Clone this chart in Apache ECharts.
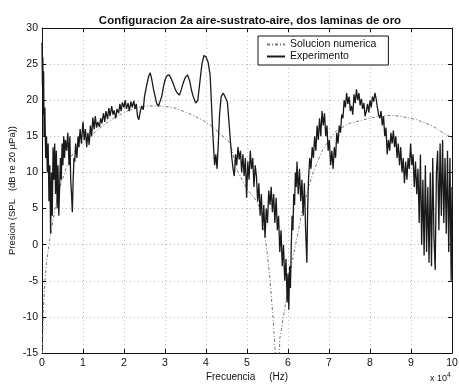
<!DOCTYPE html>
<html>
<head>
<meta charset="utf-8">
<script src="https://cdn.jsdelivr.net/npm/echarts@6/dist/echarts.min.js"></script>
<style>
html,body{margin:0;padding:0;background:#fff;}
#main{width:459px;height:386px;}
</style>
</head>
<body>
<div id="main"></div>
<script>
var titleText = 'Configuracion 2a aire-sustrato-aire, dos laminas de oro';
var seriesNames = ['Solucion numerica', 'Experimento'];
var xTicks = [0,1,2,3,4,5,6,7,8,9,10];
var yTicks = [-15,-10,-5,0,5,10,15,20,25,30];

// Solucion numerica: [frecuencia (x10^4 Hz), SPL dB]
var numerica = [
[0.01,-15],[0.03,-9.5],[0.07,-5],[0.11,-2.5],[0.2,1.1],[0.32,5],[0.44,8],[0.6,10.8],
[0.76,12.7],[1.0,14.2],[1.17,15],[1.4,16.1],[1.58,16.9],[1.8,17.7],[2.07,18.5],[2.3,18.9],
[2.55,19.2],[2.88,19.2],[3.2,19],[3.53,18.3],[3.9,17.3],[4.1,16.6],[4.3,15.6],[4.59,14.1],
[4.75,10.4],[4.99,7.8],[5.24,6.0],[5.36,4.4],[5.44,1.1],[5.5,-1.5],[5.56,-4.8],[5.64,-10.5],
[5.69,-15],[5.72,-19],[5.77,-19],[5.8,-13],[5.93,-8.5],[6.05,-3.9],[6.21,0.7],[6.37,5.3],
[6.61,10],[6.85,13.2],[7.02,14.6],[7.19,15.8],[7.5,16.8],[7.92,17.4],[8.24,17.8],[8.5,17.9],
[8.73,17.8],[9.14,17.3],[9.54,16.4],[9.78,15.5],[10,14.8]
];

// Experimento: [frecuencia (x10^4 Hz), SPL dB]
var experimento = [
[0,28],[0.01,22],[0.02,26],[0.03,18],[0.04,24],[0.05,15],[0.07,19],[0.09,12],[0.11,15],[0.13,10],
[0.15,14],[0.17,6],[0.19,11],[0.21,1.5],[0.23,10],[0.25,4],[0.27,13.5],[0.29,9],[0.31,14],[0.33,7],
[0.35,13],[0.37,5],[0.39,11],[0.41,4],[0.43,8],[0.45,12],[0.47,9],[0.49,14],[0.51,11],[0.53,15],
[0.55,12],[0.57,14.5],[0.6,13],[0.63,15.5],[0.66,11],[0.68,15],[0.7,9],[0.72,7],[0.74,4.5],[0.76,9],
[0.78,12],[0.8,11.5],[0.82,14],[0.85,12],[0.88,15],[0.9,13.5],[0.93,16],[0.96,14],[1.0,17],[1.03,14.5],
[1.06,16],[1.09,13.5],[1.12,15.5],[1.15,13.8],[1.18,16.5],[1.21,15],[1.24,17.6],[1.27,16],[1.3,17.8],[1.33,16.2],
[1.36,17],[1.4,16.3],[1.43,17.5],[1.46,16.8],[1.5,18.2],[1.53,17],[1.56,18.5],[1.6,17.4],[1.63,18.9],[1.66,17.8],
[1.7,19.2],[1.73,18],[1.76,18.6],[1.8,17.5],[1.83,18.8],[1.87,18.2],[1.9,19.5],[1.93,18.5],[1.96,19.7],[2.0,19],
[2.03,20],[2.06,18.8],[2.1,19.6],[2.13,18.5],[2.17,19.8],[2.2,19],[2.24,19.9],[2.27,18.8],[2.3,19.5],[2.33,17.8],
[2.36,17.3],[2.4,18.5],[2.43,19.2],[2.47,18.7],[2.5,20.5],[2.55,22],[2.6,23.3],[2.64,23.8],[2.68,22.8],[2.72,21.5],
[2.76,20.5],[2.8,19.5],[2.84,19.2],[2.88,19],[2.92,20.5],[2.96,21.8],[3.0,22.8],[3.05,23.4],[3.1,23.5],[3.15,23],
[3.2,22.3],[3.25,21.5],[3.3,21],[3.35,20.7],[3.4,21.5],[3.45,22.5],[3.5,23.2],[3.55,23.5],[3.6,22.7],[3.65,21.3],
[3.7,20.3],[3.75,19.6],[3.8,20],[3.85,22.5],[3.9,25],[3.95,26.2],[4.0,26],[4.05,25.3],[4.1,23.5],[4.13,20],
[4.16,16],[4.19,13],[4.21,11],[4.24,12.5],[4.27,10.5],[4.3,14],[4.33,18],[4.37,20.5],[4.42,21],[4.47,20.4],
[4.52,19.8],[4.56,17],[4.6,14],[4.63,12],[4.66,10.5],[4.69,9.5],[4.72,12.5],[4.75,11],[4.78,13.5],[4.81,11.8],
[4.84,13],[4.87,10],[4.9,12.5],[4.93,9.5],[4.96,12],[4.99,6.5],[5.02,11.5],[5.05,9],[5.08,13],[5.11,10.5],
[5.14,12],[5.17,8],[5.2,11],[5.23,9.5],[5.26,6],[5.29,8.5],[5.32,4],[5.35,7],[5.38,2],[5.41,5.5],
[5.44,1],[5.47,5],[5.5,3],[5.53,7.5],[5.56,5.5],[5.59,8],[5.62,4.5],[5.65,7],[5.68,3],[5.71,6.5],
[5.74,2],[5.77,4],[5.8,-1],[5.83,2],[5.86,-3],[5.89,0],[5.92,-5],[5.95,-2],[5.98,-8],[6.0,-4],
[6.02,-9],[6.04,-3],[6.06,-6],[6.08,0],[6.1,4],[6.12,2],[6.14,7],[6.16,5.5],[6.18,10],[6.2,8],
[6.22,11.5],[6.25,7],[6.28,10.5],[6.31,6],[6.34,9],[6.37,4],[6.4,8.5],[6.43,2],[6.46,-2.5],[6.48,5],
[6.5,9],[6.53,12],[6.56,10.5],[6.59,13.5],[6.62,12],[6.65,15],[6.68,13],[6.71,16.5],[6.74,14.5],[6.77,17.5],
[6.8,15],[6.83,18.5],[6.86,16.5],[6.89,18.2],[6.92,15],[6.95,16.5],[6.98,13],[7.01,14.5],[7.04,11],[7.07,13],
[7.1,10.5],[7.13,13.5],[7.16,12],[7.19,15.5],[7.22,14],[7.25,16.5],[7.28,15.5],[7.31,18],[7.34,17.5],[7.37,20],
[7.4,19],[7.43,21],[7.46,19.5],[7.49,20.5],[7.52,18.5],[7.55,19.2],[7.58,18],[7.61,20.8],[7.64,19.6],[7.67,21.5],
[7.7,20],[7.73,21],[7.76,19.3],[7.79,20.2],[7.82,18.8],[7.85,19.6],[7.88,17.8],[7.91,18.5],[7.94,19.5],[7.97,18.3],
[8.0,20],[8.03,19],[8.06,20.5],[8.09,19.8],[8.12,21],[8.15,20.2],[8.18,19],[8.21,18],[8.24,17.5],[8.27,18.5],
[8.3,16.5],[8.33,17.8],[8.36,15],[8.39,16.2],[8.42,12.5],[8.45,14.5],[8.48,13],[8.51,15.5],[8.54,14],[8.57,15.8],
[8.6,13.5],[8.63,15],[8.66,12],[8.69,14],[8.72,11],[8.75,13.5],[8.78,10],[8.81,12],[8.84,8.5],[8.87,11.5],
[8.9,9],[8.93,12],[8.96,10.5],[8.99,14],[9.02,11],[9.05,12.5],[9.08,8],[9.11,11.5],[9.14,7],[9.17,10.5],
[9.2,3],[9.23,12.5],[9.26,0],[9.29,9],[9.32,-1.5],[9.35,11],[9.38,-1],[9.41,8],[9.44,-2.5],[9.47,10],
[9.5,-3],[9.53,12],[9.56,1],[9.59,-3.5],[9.62,10],[9.65,13],[9.68,2],[9.71,14],[9.74,4],[9.77,14.5],
[9.8,3],[9.83,12],[9.86,1.5],[9.89,13],[9.92,-1],[9.95,12],[9.98,-5],[10,8]
];

var chart = echarts.init(document.getElementById('main'), null, {renderer:'canvas'});
var fontFam = 'Liberation Sans, Arial, sans-serif';
var axLine = {show:true, onZero:false, lineStyle:{color:'#111', width:1}};
var axTick = {show:true, inside:true, length:4, lineStyle:{color:'#111'}};
var gridLine = {show:true, lineStyle:{color:'#bbb', type:[1,3], width:1}};

chart.setOption({
  backgroundColor:'#fff',
  animation:false,
  title:{
    text:titleText, left:245, top:10, textAlign:'center',
    textStyle:{fontFamily:fontFam, fontSize:11.5, fontWeight:'bold', color:'#111'}
  },
  legend:{
    show:true,
    orient:'vertical', left:258, top:36,
    data:seriesNames,
    backgroundColor:'#fff', borderColor:'#111', borderWidth:1,
    padding:[3,12,3,8], itemGap:1, itemWidth:18, itemHeight:11,
    itemStyle:{opacity:0},
    textStyle:{fontFamily:fontFam, fontSize:10.5, color:'#111'}
  },
  grid:{left:42, top:28, right:7, bottom:33, show:false, containLabel:false, outerBoundsMode:'none'},
  xAxis:[
    {type:'value', min:0, max:10, interval:1, position:'bottom',
     name:'Frecuencia     (Hz)', nameLocation:'middle', nameGap:19, nameMoveOverlap:false,
     nameTextStyle:{fontFamily:fontFam, fontSize:10, color:'#111'},
     axisLine:axLine, axisTick:axTick,
     axisLabel:{fontFamily:fontFam, fontSize:10.5, color:'#111', margin:5,
       formatter:function(v){return xTicks.indexOf(v)>=0 ? String(v) : '';}},
     splitLine:gridLine},
    {type:'value', min:0, max:10, interval:1, position:'top',
     axisLine:axLine, axisTick:axTick,
     axisLabel:{show:false}, splitLine:{show:false}}
  ],
  yAxis:[
    {type:'value', min:-15, max:30, interval:5, position:'left',
     name:'Presion (SPL   (dB re 20 \u00b5Pa))', nameLocation:'middle', nameGap:25, nameRotate:90,
     nameMoveOverlap:false,
     nameTextStyle:{fontFamily:fontFam, fontSize:9.5, color:'#111'},
     axisLine:axLine, axisTick:axTick,
     axisLabel:{fontFamily:fontFam, fontSize:10.5, color:'#111', margin:4,
       formatter:function(v){return yTicks.indexOf(v)>=0 ? String(v) : '';}},
     splitLine:gridLine},
    {type:'value', min:-15, max:30, interval:5, position:'right',
     axisLine:axLine, axisTick:axTick,
     axisLabel:{show:false}, splitLine:{show:false}}
  ],
  graphic:[
    {type:'text', left:430, top:372,
     style:{text:'x 10{s|4}', font:'9px Liberation Sans, Arial, sans-serif', fill:'#111',
       rich:{s:{fontSize:7, verticalAlign:'top', padding:[0,0,6,0], fill:'#111'}}}}
  ],
  series:[
    {name:seriesNames[0], type:'line', xAxisIndex:0, yAxisIndex:0, data:numerica,
     showSymbol:false, symbol:'none', clip:true, z:2,
     lineStyle:{color:'#777', width:1, type:[3,2,1,2]}, itemStyle:{color:'#777'}},
    {name:seriesNames[1], type:'line', xAxisIndex:0, yAxisIndex:0, data:experimento,
     showSymbol:false, symbol:'none', clip:true, z:3,
     lineStyle:{color:'#1a1a1a', width:1.3}, itemStyle:{color:'#1a1a1a'}}
  ]
});
</script>
</body>
</html>
